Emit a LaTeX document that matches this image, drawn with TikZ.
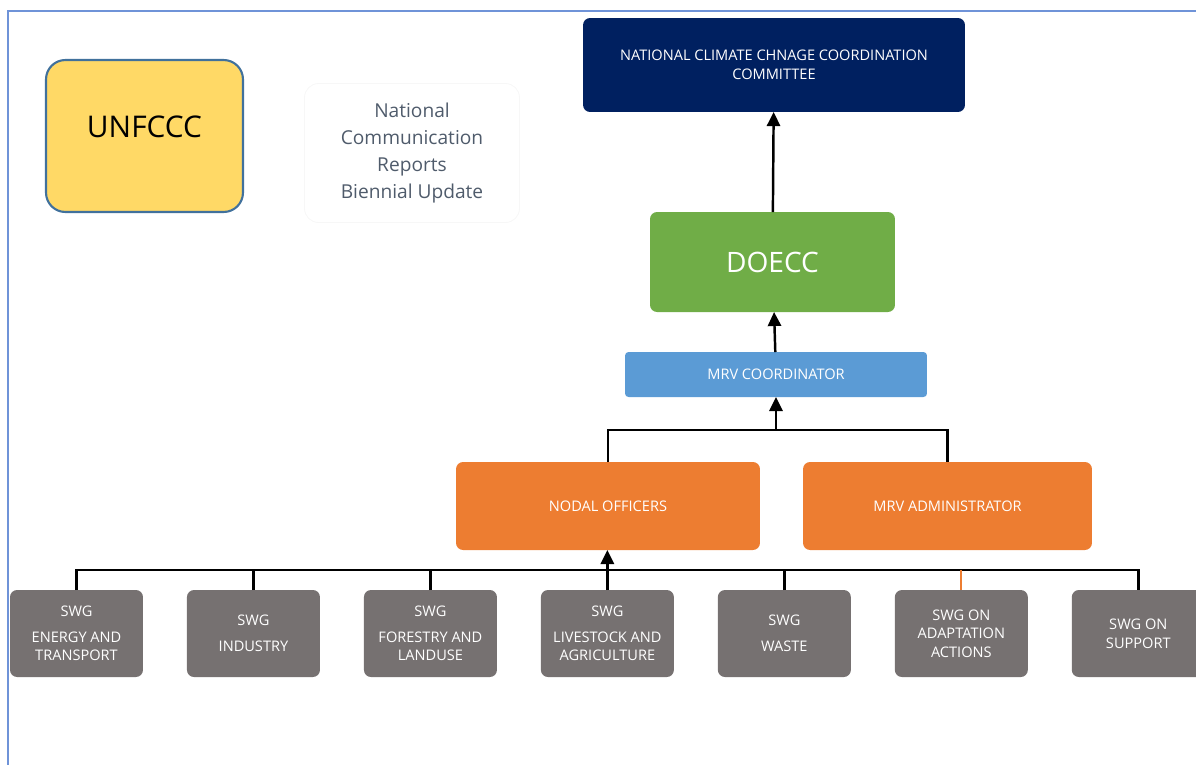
\documentclass[tikz,border=0pt]{standalone}
\usepackage{fontspec}
\setmainfont{Open Sans}
\usepackage{xcolor}
\definecolor{ccnavy}{HTML}{002060}
\definecolor{ccgreen}{HTML}{70AD47}
\definecolor{ccblue}{HTML}{5B9BD5}
\definecolor{ccorange}{HTML}{ED7D31}
\definecolor{ccgray}{HTML}{767171}
\definecolor{ccyellow}{HTML}{FFD966}
\definecolor{ccedge}{HTML}{41719C}
\definecolor{cctext}{HTML}{4F5B6B}
\definecolor{ccframe}{HTML}{6F93D8}
\usepackage{tikz}
\usetikzlibrary{arrows.meta,positioning}

\begin{document}
\begin{tikzpicture}[x=0.02cm,y=-0.02cm,>={Triangle[length=8pt,width=7.5pt]},line width=1.4pt]
            \tikzstyle{box}=[rounded corners=4pt,inner sep=0pt,outer sep=0pt,align=center,text=white,font=\fontsize{8.3}{10.6}\selectfont]
            \tikzstyle{swg}=[box,fill=ccgray,minimum width=2.66cm,minimum height=1.74cm]
            \tikzstyle{link}=[draw=black]

            \useasboundingbox (0,0) rectangle (1196,765);
            \draw[ccframe,line width=0.6pt] (1196,11) -- (8,11) -- (8,765);

            \node[box,fill=ccnavy,minimum width=7.64cm,minimum height=1.88cm] (nccc) at (774,65)
                {NATIONAL CLIMATE CHNAGE COORDINATION\\COMMITTEE};
            \node[box,fill=ccyellow,draw=ccedge,line width=1.2pt,rounded corners=11pt,text=black,
                  minimum width=3.94cm,minimum height=3.04cm,text height=0.5cm,text depth=0.44cm,
                  font=\fontsize{17}{20}\selectfont] (unfccc) at (144.5,136) {UNFCCC};
            \node[box,draw=gray!6,line width=0.5pt,rounded corners=8pt,text=cctext,
                  minimum width=4.3cm,minimum height=2.78cm,font=\fontsize{10.9}{15.3}\selectfont] (reports) at (412,153)
                {National\\Communication\\Reports\\Biennial Update};
            \node[box,fill=ccgreen,minimum width=4.9cm,minimum height=2cm,font=\fontsize{16}{19}\selectfont] (doecc) at (772.5,262) {DOECC};
            \node[box,fill=ccblue,rounded corners=2pt,minimum width=6.04cm,minimum height=0.9cm] (mrvc) at (776,374.5) {MRV COORDINATOR};
            \node[box,fill=ccorange,minimum width=6.08cm,minimum height=1.76cm] (nodal) at (608,506) {NODAL OFFICERS};
            \node[box,fill=ccorange,minimum width=5.78cm,minimum height=1.76cm] (admin) at (947.5,506) {MRV ADMINISTRATOR};

            \node[swg] (energy) at (76.5,633.5) {SWG\\[4pt]ENERGY AND\\TRANSPORT};
            \node[swg] (industry) [right=0.88cm of energy] {SWG\\[4pt]INDUSTRY};
            \node[swg] (forestry) [right=0.88cm of industry] {SWG\\[4pt]FORESTRY AND\\LANDUSE};
            \node[swg] (livestock) [right=0.88cm of forestry] {SWG\\[4pt]LIVESTOCK AND\\AGRICULTURE};
            \node[swg] (waste) [right=0.88cm of livestock] {SWG\\[4pt]WASTE};
            \node[swg] (adapt) [right=0.88cm of waste] {SWG ON\\ADAPTATION\\ACTIONS};
            \node[swg] (support) [right=0.88cm of adapt] {SWG ON\\SUPPORT};

            \coordinate (join) at (776,430);
            \coordinate (bus) at (0,570);

            \path   (doecc) edge [link,->] (nccc)
                    (mrvc) edge [link,->] (doecc);
            \draw[link] (nodal.north) |- (join) -| (admin.north);
            \draw[link,->] (join) -- (mrvc.south);

            \draw[link] (energy.north) -- (energy.north |- bus) -- (support.north |- bus) -- (support.north);
            \draw[link] (industry.north) -- (industry.north |- bus);
            \draw[link] (forestry.north) -- (forestry.north |- bus);
            \draw[link] (waste.north) -- (waste.north |- bus);
            \draw[ccorange,line width=1pt] (adapt.north) -- (adapt.north |- bus);
            \draw[link,->] (livestock.north) -- (livestock.north |- nodal.south);
\end{tikzpicture}
\end{document}
